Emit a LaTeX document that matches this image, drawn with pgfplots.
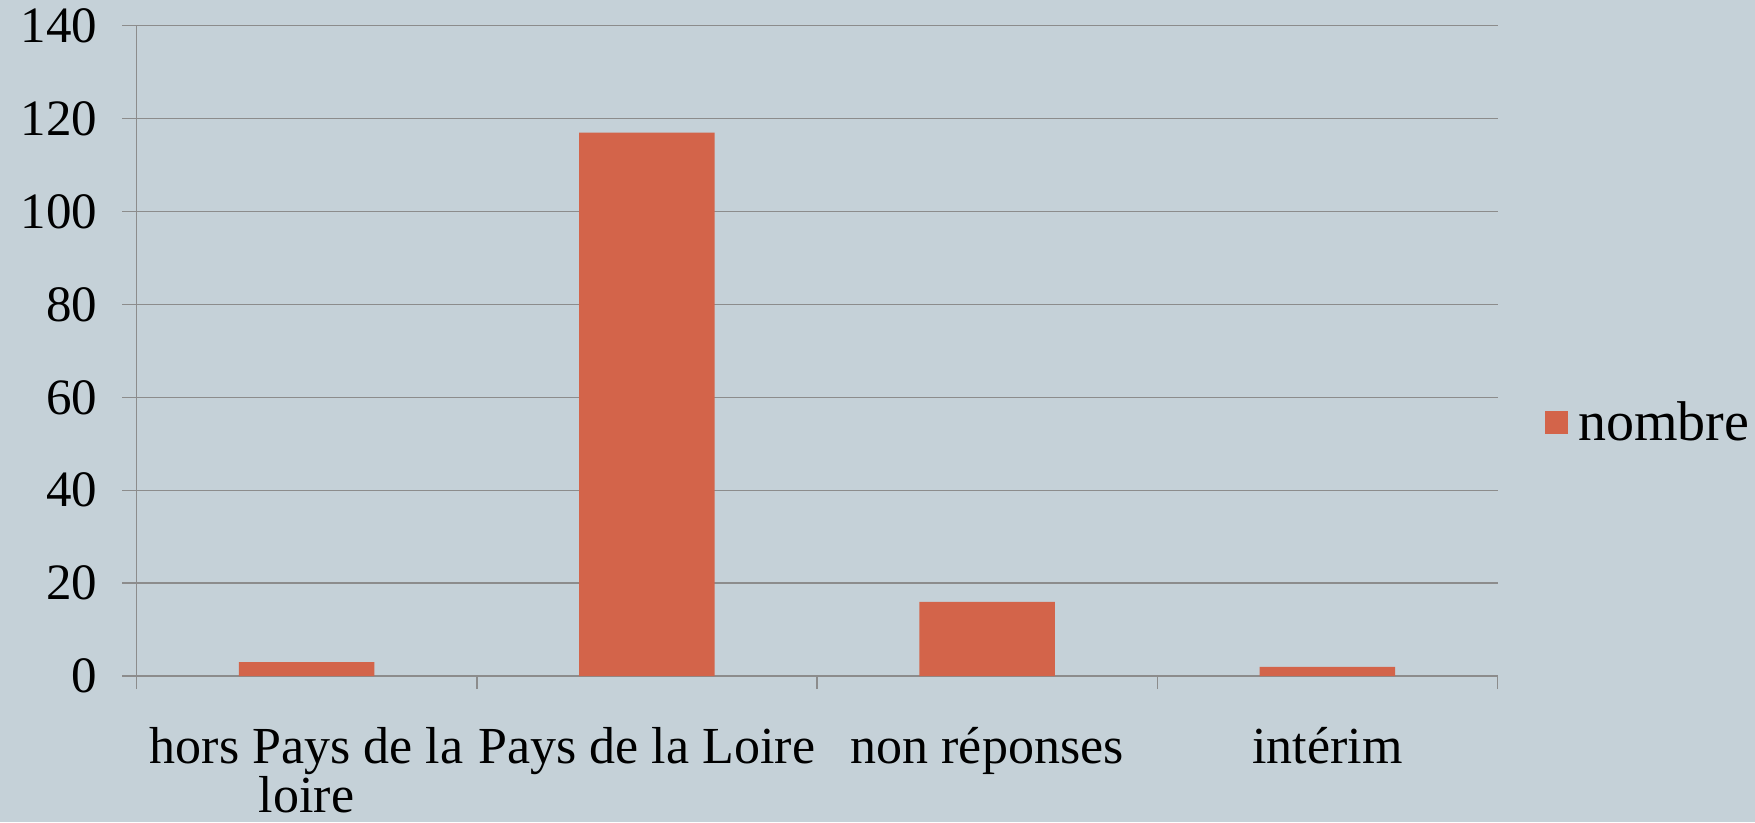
\documentclass[border=0pt]{standalone}
\usepackage{fontspec}
\setmainfont{Liberation Serif}
\usepackage{pgfplots}
\pgfplotsset{compat=1.18}
\definecolor{bgc}{HTML}{C5D1D8}
\definecolor{barc}{HTML}{D3644A}
\definecolor{gridc}{HTML}{8C8C8C}
\begin{document}
\begin{tikzpicture}
\fill[bgc, use as bounding box] (-68.25pt,-73pt) rectangle (809.25pt,338.05pt);
\begin{axis}[
  at={(0pt,0pt)}, anchor=south west,
  scale only axis, width=680.5pt, height=325.2pt,
  xmin=-0.5, xmax=3.5, ymin=0, ymax=140,
  ytick={0,20,...,140},
  xtick={0,1,2,3},
  xticklabels={{hors Pays de la\\loire}, Pays de la Loire, non réponses, intérim},
  minor xtick={-0.5,0.5,1.5,2.5,3.5},
  axis x line*=bottom, axis y line*=left,
  axis line style={gridc, line width=0.75pt, -},
  ymajorgrids, major grid style={gridc, line width=0.75pt},
  tick align=outside,
  major tick length=7pt, minor tick length=6.5pt,
  major x tick style={draw=none},
  minor x tick style={gridc, line width=0.75pt},
  ytick style={gridc, line width=0.75pt},
  /pgf/number format/assume math mode=true,
  y tick label style={font=\fontsize{25.5}{28}\selectfont, xshift=-9pt},
  x tick label style={font=\fontsize{26}{23.5}\selectfont, align=center, anchor=north, yshift=-15pt},
  legend style={at={(1.03,0.39)}, anchor=west, draw=none, fill=none, font=\fontsize{28}{30}\selectfont,
    legend cell align=left, /tikz/every even column/.style={column sep=0pt}},
  legend image code/.code={\fill[barc] (0pt,-5.8pt) rectangle (11.7pt,5.8pt);},
]
\addplot[ybar, bar width=67.7pt, fill=barc, draw=none] coordinates {(0,3) (1,117) (2,16) (3,2)};
\addlegendentry{\hspace{3pt}nombre}
\end{axis}
\end{tikzpicture}
\end{document}
